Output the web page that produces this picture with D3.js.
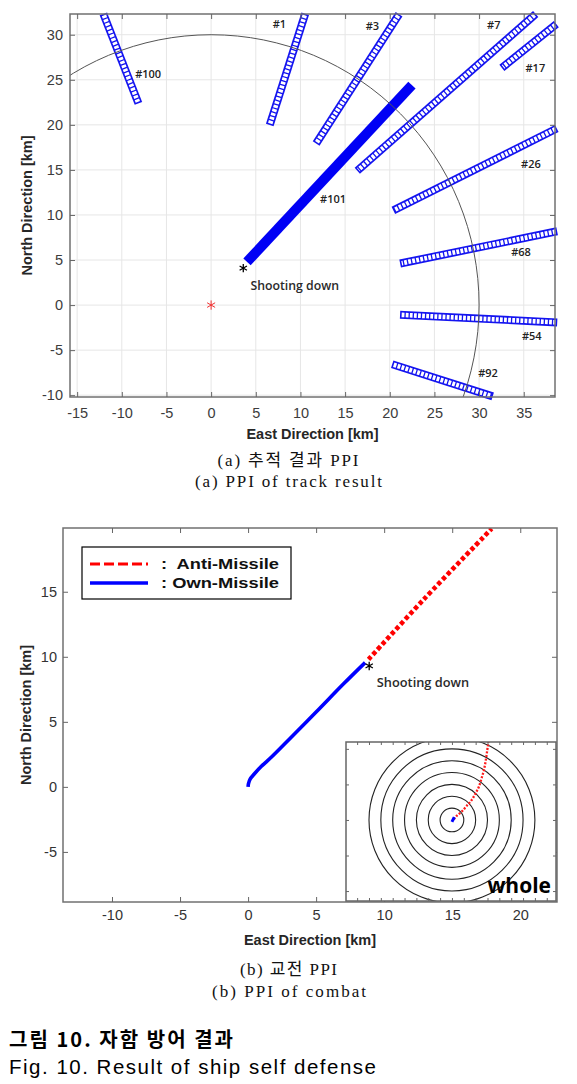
<!DOCTYPE html>
<html><head><meta charset="utf-8">
<script src="https://cdn.jsdelivr.net/npm/d3@7"></script>
<style>body{margin:0;background:#fff}</style>
</head><body><svg id="c" width="577" height="1084"></svg>
<script>
// ---------- DATA: (a) PPI of track result ----------
const ppiXTicks = [-15,-10,-5,0,5,10,15,20,25,30,35];
const ppiYTicks = [-10,-5,0,5,10,15,20,25,30];
const trackIds    = ["#100","#1","#3","#7","#17","#26","#68","#54","#92"];
const trackStartE = [-11.9, 10.4, 20.8, 36.0, 38.3, 38.3, 38.3, 21.6, 20.7];
const trackStartN = [31.9, 31.9, 31.9, 32.0, 30.9, 19.4, 8.1, -1.1, -6.7];
const trackEndE   = [-8.3, 6.7, 12.0, 16.7, 32.9, 20.8, 21.6, 38.3, 31.1];
const trackEndN   = [22.8, 20.4, 18.3, 15.2, 26.6, 10.7, 4.7, -1.9, -10.0];
const trackLabelE = [-8.5, 6.9, 17.3, 30.9, 35.2, 34.7, 33.6, 34.8, 29.9];
const trackLabelN = [25.6, 31.2, 31.0, 31.1, 26.3, 15.6, 5.9, -3.4, -7.6];
const ownTrackId = "#101";
const ownTrackE = [4.4, 22.1];
const ownTrackN = [5.2, 24.0];
const ownTrackLabel = [12.2, 11.8];
const radarRange = 30;
const shipPos = [0, 0];
const killPosA = [3.6, 4.1];
const killLabelA = [4.4, 2.1];

// ---------- DATA: (b) PPI of combat ----------
const cmbXTicks = [-10,-5,0,5,10,15,20];
const cmbYTicks = [-5,0,5,10,15];
const ownMissileE = [0, 0.03, 0.15, 0.42, 0.96, 1.76, 2.99, 5.0, 7.0, 8.6];
const ownMissileN = [0, 0.25, 0.6, 0.95, 1.56, 2.33, 3.62, 5.75, 7.9, 9.55];
const antiMissileE = [8.85, 12.9, 17.9];
const antiMissileN = [9.8, 14.4, 19.85];
const killPosB = [8.9, 9.3];
const killLabelB = [9.46, 7.7];
const legendNames = ["Anti-Missile", "Own-Missile"];
// inset "whole"
const insetRings = [5,10,15,20,25,30,35];
const insetXTicks = [-40,-35,-30,-25,-20,-15,-10,-5,0,5,10,15,20,25,30,35,40];
const insetYTicks = [-30,-15,0,15,30];
const insetAntiE = [0.8, 2, 4.1, 6.2, 8.3, 10, 11.4, 12.5, 13.5, 14.3, 14.9, 15.3, 15.6];
const insetAntiN = [0.3, 1.7, 3.5, 5.9, 8.4, 11.3, 14.1, 17.6, 21.1, 25.3, 29.5, 32.3, 36];
const insetOwnE = [0, 0.5, 1.0];
const insetOwnN = [-0.8, 0.2, 1.2];

// ---------- RENDER ----------
const svg = d3.select("#c");
svg.append("rect").attr("width",577).attr("height",1084).attr("fill","#fff");
const defs = svg.append("defs");
const TICKF = "'Liberation Sans', Arial, sans-serif";
const LABF = "'Liberation Sans', Arial, sans-serif";
const ANNF = "'Open Sans', sans-serif";
const fmt = d => String(d);

function styleAxis(g, size, color){
  g.attr("font-family", TICKF).attr("font-size", size);
  g.selectAll("text").attr("fill", color);
  g.selectAll(".tick line").attr("stroke", "#666");
  g.select(".domain").remove();
}

// ===== Chart (a) =====
const A = {l:70, r:555, t:14, b:397};
const xa = d3.scaleLinear().domain([-15.8, 38.5]).range([A.l, A.r]);
const ya = d3.scaleLinear().domain([-10.2, 32.3]).range([A.b, A.t]);
defs.append("clipPath").attr("id","clipA").append("rect")
  .attr("x",A.l).attr("y",A.t).attr("width",A.r-A.l).attr("height",A.b-A.t);
const ga = svg.append("g");
ga.append("g").selectAll("line").data(ppiXTicks).join("line")
  .attr("x1",d=>xa(d)).attr("x2",d=>xa(d)).attr("y1",A.t).attr("y2",A.b)
  .attr("stroke","#e6e6e6").attr("stroke-width",1);
ga.append("g").selectAll("line").data(ppiYTicks).join("line")
  .attr("y1",d=>ya(d)).attr("y2",d=>ya(d)).attr("x1",A.l).attr("x2",A.r)
  .attr("stroke","#e6e6e6").attr("stroke-width",1);

const tracks = trackIds.map((id,i)=>({id, x1:trackStartE[i], y1:trackStartN[i], x2:trackEndE[i], y2:trackEndN[i],
  lx:trackLabelE[i], ly:trackLabelN[i]}));
const blueMk = "#1414f0";
ga.append("g").selectAll("line").data(tracks).join("line")
  .attr("x1",d=>xa(d.x1)).attr("y1",d=>ya(d.y1)).attr("x2",d=>xa(d.x2)).attr("y2",d=>ya(d.y2))
  .attr("stroke",blueMk).attr("stroke-width",8).attr("stroke-linecap","square");
function ext(d, e){
  const X1=xa(d.x1),Y1=ya(d.y1),X2=xa(d.x2),Y2=ya(d.y2);
  const L=Math.hypot(X2-X1,Y2-Y1), ux=(X2-X1)/L, uy=(Y2-Y1)/L;
  return [X1-ux*e, Y1-uy*e, X2+ux*e, Y2+uy*e];
}
ga.append("g").selectAll("line").data(tracks).join("line")
  .each(function(d){ const p=ext(d,2.4); d3.select(this).attr("x1",p[0]).attr("y1",p[1]).attr("x2",p[2]).attr("y2",p[3]); })
  .attr("stroke","#fff").attr("stroke-width",4.6).attr("stroke-dasharray","2.8,1.3");

ga.append("line")
  .attr("x1",xa(ownTrackE[0])).attr("y1",ya(ownTrackN[0]))
  .attr("x2",xa(ownTrackE[1])).attr("y2",ya(ownTrackN[1]))
  .attr("stroke","#0000f5").attr("stroke-width",10).attr("stroke-linecap","square");

ga.append("ellipse").attr("clip-path","url(#clipA)")
  .attr("cx",xa(0)).attr("cy",ya(0))
  .attr("rx",xa(radarRange)-xa(0)).attr("ry",ya(0)-ya(radarRange))
  .attr("fill","none").attr("stroke","#555").attr("stroke-width",1);

ga.append("path").attr("d",d3.symbol(d3.symbolAsterisk,60)())
  .attr("transform",`translate(${xa(shipPos[0])},${ya(shipPos[1])})`)
  .attr("fill","none").attr("stroke","#f03030").attr("stroke-width",1);
ga.append("path").attr("d",d3.symbol(d3.symbolAsterisk,50)())
  .attr("transform",`translate(${xa(killPosA[0])},${ya(killPosA[1])})`)
  .attr("fill","none").attr("stroke","#000").attr("stroke-width",1.3);

ga.append("g").selectAll("text").data(tracks).join("text")
  .attr("x",d=>xa(d.lx)).attr("y",d=>ya(d.ly)).attr("dy","0.35em")
  .attr("font-family",ANNF).attr("font-weight",600).attr("font-size",11).attr("fill","#222")
  .text(d=>d.id);
ga.append("text").attr("x",xa(ownTrackLabel[0])).attr("y",ya(ownTrackLabel[1])).attr("dy","0.35em")
  .attr("font-family",ANNF).attr("font-weight",600).attr("font-size",11).attr("fill","#222").text(ownTrackId);
ga.append("text").attr("x",xa(killLabelA[0])).attr("y",ya(killLabelA[1])).attr("dy","0.35em")
  .attr("font-family",ANNF).attr("font-weight",600).attr("font-size",12.3).attr("fill","#2a2a2a").text("Shooting down");

ga.append("rect").attr("x",A.l).attr("y",A.t).attr("width",A.r-A.l).attr("height",A.b-A.t)
  .attr("fill","none").attr("stroke","#707070").attr("stroke-width",1.5);
styleAxis(ga.append("g").attr("transform",`translate(0,${A.b})`)
  .call(d3.axisBottom(xa).tickValues(ppiXTicks).tickFormat(fmt).tickSizeInner(-5).tickSizeOuter(0).tickPadding(11)), 14.5, "#3c3c3c");
styleAxis(ga.append("g").attr("transform",`translate(${A.l},0)`)
  .call(d3.axisLeft(ya).tickValues(ppiYTicks).tickFormat(fmt).tickSizeInner(-5).tickSizeOuter(0).tickPadding(7)), 14.5, "#3c3c3c");
styleAxis(ga.append("g").attr("transform",`translate(0,${A.t})`)
  .call(d3.axisTop(xa).tickValues(ppiXTicks).tickSizeInner(-5).tickSizeOuter(0).tickFormat("")), 14, "#3c3c3c");
styleAxis(ga.append("g").attr("transform",`translate(${A.r},0)`)
  .call(d3.axisRight(ya).tickValues(ppiYTicks).tickSizeInner(-5).tickSizeOuter(0).tickFormat("")), 14, "#3c3c3c");
ga.append("text").attr("x",(A.l+A.r)/2).attr("y",439).attr("text-anchor","middle")
  .attr("font-family",LABF).attr("font-weight","bold").attr("font-size",14.5).attr("fill","#262626")
  .text("East Direction [km]");
ga.append("text").attr("transform",`translate(27,${(A.t+A.b)/2}) rotate(-90)`).attr("text-anchor","middle")
  .attr("dy","0.35em").attr("font-family",LABF).attr("font-weight","bold").attr("font-size",14.5).attr("fill","#262626")
  .text("North Direction [km]");

const SERIF = "'Liberation Serif', 'Noto Sans CJK KR', serif";
svg.append("text").attr("x",288).attr("y",466).attr("text-anchor","middle").attr("font-family",SERIF)
  .attr("font-size",17).attr("fill","#111").attr("textLength",141).attr("lengthAdjust","spacing").text("(a) 추적 결과 PPI");
svg.append("text").attr("x",288.5).attr("y",487).attr("text-anchor","middle").attr("font-family",SERIF)
  .attr("font-size",17).attr("fill","#111").attr("textLength",187).attr("lengthAdjust","spacing").text("(a) PPI of track result");

// ===== Chart (b) =====
const B = {l:63, r:557, t:528, b:902};
const xb = d3.scaleLinear().domain([-13.6, 22.7]).range([B.l, B.r]);
const yb = d3.scaleLinear().domain([-8.85, 19.9]).range([B.b, B.t]);
defs.append("clipPath").attr("id","clipB").append("rect")
  .attr("x",B.l).attr("y",B.t).attr("width",B.r-B.l).attr("height",B.b-B.t);
const gb = svg.append("g");
const lineB = d3.line().x(d=>xb(d[0])).y(d=>yb(d[1])).curve(d3.curveCatmullRom);
gb.append("path").datum(ownMissileE.map((e,i)=>[e, ownMissileN[i]]))
  .attr("d",lineB).attr("fill","none").attr("stroke","#0000ff").attr("stroke-width",3.6).attr("clip-path","url(#clipB)");
gb.append("path").datum(antiMissileE.map((e,i)=>[e, antiMissileN[i]]))
  .attr("d",lineB).attr("fill","none").attr("stroke","#ff0000").attr("stroke-width",4.6)
  .attr("stroke-dasharray","4.2,2.6").attr("clip-path","url(#clipB)");
gb.append("path").attr("d",d3.symbol(d3.symbolAsterisk,50)())
  .attr("transform",`translate(${xb(killPosB[0])},${yb(killPosB[1])})`)
  .attr("fill","none").attr("stroke","#000").attr("stroke-width",1.3);
gb.append("text").attr("x",xb(killLabelB[0])).attr("y",yb(killLabelB[1]))
  .attr("font-family",ANNF).attr("font-weight",600).attr("font-size",12.8).attr("fill","#2a2a2a").text("Shooting down");

// legend
const lg = gb.append("g");
lg.append("rect").attr("x",82).attr("y",547).attr("width",209).attr("height",52).attr("fill","#fff").attr("stroke","#000").attr("stroke-width",1.2);
lg.append("line").attr("x1",90).attr("x2",148).attr("y1",564).attr("y2",564).attr("stroke","#ff0000").attr("stroke-width",3.2).attr("stroke-dasharray","10,4");
lg.append("line").attr("x1",90).attr("x2",148).attr("y1",583).attr("y2",583).attr("stroke","#0000ff").attr("stroke-width",3.6);
lg.selectAll("text.n").data(legendNames).join("text").attr("class","n")
  .attr("x",161).attr("y",(d,i)=>569+i*19).attr("font-family","'Liberation Sans', Arial, sans-serif").attr("font-weight",700).attr("font-size",15.5)
  .attr("fill","#111").attr("xml:space","preserve")
  .attr("textLength",118).attr("lengthAdjust","spacingAndGlyphs").text((d,i)=>(i? ": " : ":  ")+d);

gb.append("rect").attr("x",B.l).attr("y",B.t).attr("width",B.r-B.l).attr("height",B.b-B.t)
  .attr("fill","none").attr("stroke","#707070").attr("stroke-width",1.5);
styleAxis(gb.append("g").attr("transform",`translate(0,${B.b})`)
  .call(d3.axisBottom(xb).tickValues(cmbXTicks).tickFormat(fmt).tickSizeInner(-5).tickSizeOuter(0).tickPadding(8)), 14.5, "#333");
styleAxis(gb.append("g").attr("transform",`translate(${B.l},0)`)
  .call(d3.axisLeft(yb).tickValues(cmbYTicks).tickFormat(fmt).tickSizeInner(-5).tickSizeOuter(0).tickPadding(6)), 14.5, "#333");
styleAxis(gb.append("g").attr("transform",`translate(0,${B.t})`)
  .call(d3.axisTop(xb).tickValues(cmbXTicks).tickSizeInner(-5).tickSizeOuter(0).tickFormat("")), 14.5, "#333");
styleAxis(gb.append("g").attr("transform",`translate(${B.r},0)`)
  .call(d3.axisRight(yb).tickValues(cmbYTicks).tickSizeInner(-5).tickSizeOuter(0).tickFormat("")), 14.5, "#333");
gb.append("text").attr("x",(B.l+B.r)/2).attr("y",945).attr("text-anchor","middle")
  .attr("font-family",LABF).attr("font-weight","bold").attr("font-size",14.5).attr("fill","#262626")
  .text("East Direction [km]");
gb.append("text").attr("transform",`translate(26,${(B.t+B.b)/2}) rotate(-90)`).attr("text-anchor","middle")
  .attr("dy","0.35em").attr("font-family",LABF).attr("font-weight","bold").attr("font-size",14.5).attr("fill","#262626")
  .text("North Direction [km]");

// inset "whole"
const I = {l:346, r:556, t:742, b:901};
const xi = d3.scaleLinear().domain([-44.7, 43.9]).range([I.l, I.r]);
const yi = d3.scaleLinear().domain([-34.2, 32.9]).range([I.b, I.t]);
defs.append("clipPath").attr("id","clipI").append("rect")
  .attr("x",I.l).attr("y",I.t).attr("width",I.r-I.l).attr("height",I.b-I.t);
const gi = svg.append("g");
gi.append("rect").attr("x",I.l).attr("y",I.t).attr("width",I.r-I.l).attr("height",I.b-I.t).attr("fill","#fff");
const gic = gi.append("g").attr("clip-path","url(#clipI)");
gic.selectAll("ellipse").data(insetRings).join("ellipse")
  .attr("cx",xi(0)).attr("cy",yi(0)).attr("rx",d=>xi(d)-xi(0)).attr("ry",d=>yi(0)-yi(d))
  .attr("fill","none").attr("stroke","#222").attr("stroke-width",1.1);
const lineI = d3.line().x(d=>xi(d[0])).y(d=>yi(d[1])).curve(d3.curveCatmullRom);
gic.append("path").datum(insetAntiE.map((e,i)=>[e, insetAntiN[i]])).attr("d",lineI)
  .attr("fill","none").attr("stroke","#ff1a1a").attr("stroke-width",2.3).attr("stroke-dasharray","2,1.6");
gic.append("path").datum(insetOwnE.map((e,i)=>[e, insetOwnN[i]])).attr("d",lineI)
  .attr("fill","none").attr("stroke","#0000ff").attr("stroke-width",3);
gi.append("rect").attr("x",I.l).attr("y",I.t).attr("width",I.r-I.l).attr("height",I.b-I.t)
  .attr("fill","none").attr("stroke","#666").attr("stroke-width",1.5);
[[I.b,d3.axisBottom(xi).tickValues(insetXTicks)],[I.t,d3.axisTop(xi).tickValues(insetXTicks)]].forEach(([y,ax])=>{
  styleAxis(gi.append("g").attr("transform",`translate(0,${y})`).call(ax.tickSizeInner(-3).tickSizeOuter(0).tickFormat("")),10,"#333");
});
[[I.l,d3.axisLeft(yi).tickValues(insetYTicks)],[I.r,d3.axisRight(yi).tickValues(insetYTicks)]].forEach(([x,ax])=>{
  styleAxis(gi.append("g").attr("transform",`translate(${x},0)`).call(ax.tickSizeInner(-3).tickSizeOuter(0).tickFormat("")),10,"#333");
});
gi.append("text").attr("x",551).attr("y",893).attr("text-anchor","end")
  .attr("font-family",ANNF).attr("font-weight",700).attr("font-size",21).attr("fill","#000").text("whole");

svg.append("text").attr("x",288.5).attr("y",975).attr("text-anchor","middle").attr("font-family",SERIF)
  .attr("font-size",17).attr("fill","#111").attr("textLength",97).attr("lengthAdjust","spacing").text("(b) 교전 PPI");
svg.append("text").attr("x",289).attr("y",997).attr("text-anchor","middle").attr("font-family",SERIF)
  .attr("font-size",17).attr("fill","#111").attr("textLength",154).attr("lengthAdjust","spacing").text("(b) PPI of combat");

svg.append("text").attr("x",9).attr("y",1047).attr("font-family","'Noto Sans CJK KR', sans-serif").attr("font-weight",700)
  .attr("font-size",20).attr("fill","#000").attr("textLength",224).attr("lengthAdjust","spacing").text("그림 10. 자함 방어 결과");
svg.append("text").attr("x",9).attr("y",1074).attr("font-family","'Liberation Sans', Arial, sans-serif")
  .attr("font-size",20.5).attr("fill","#000").attr("textLength",367).attr("lengthAdjust","spacing").text("Fig. 10. Result of ship self defense");
</script></body></html>
